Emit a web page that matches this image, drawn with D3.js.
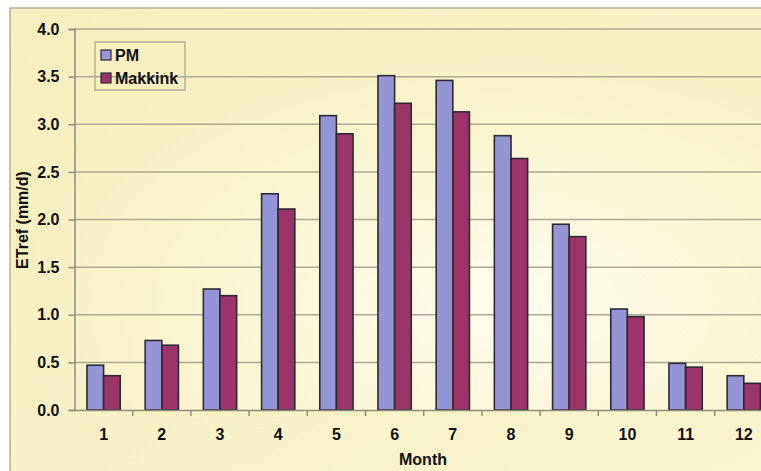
<!DOCTYPE html>
<html>
<head>
<meta charset="utf-8">
<script src="https://cdn.jsdelivr.net/npm/d3@7"></script>
<style>
  html, body { margin: 0; padding: 0; background: #fff; overflow: hidden; }
  text { font-family: Arial, "Liberation Sans", sans-serif; font-weight: bold; fill: #111; }
</style>
</head>
<body>
<svg id="chart" width="761" height="471"></svg>
<script>
// values
var months = ['1', '2', '3', '4', '5', '6', '7', '8', '9', '10', '11', '12'];
var seriesNames = ['PM', 'Makkink'];
var pm = [0.47, 0.73, 1.27, 2.27, 3.09, 3.51, 3.46, 2.88, 1.95, 1.06, 0.49, 0.36];
var makkink = [0.36, 0.68, 1.20, 2.11, 2.90, 3.22, 3.13, 2.64, 1.82, 0.98, 0.45, 0.28];
var yTicks = [0, 0.5, 1.0, 1.5, 2.0, 2.5, 3.0, 3.5, 4.0];

var colors = { 'PM': '#9595d6', 'Makkink': '#9b3468' };

var svg = d3.select('#chart');
var defs = svg.append('defs');

var outerGrad = defs.append('linearGradient').attr('id', 'outerGrad')
  .attr('x1', '0%').attr('y1', '0%').attr('x2', '100%').attr('y2', '100%');
outerGrad.append('stop').attr('offset', '0%').attr('stop-color', '#f5efbd');
outerGrad.append('stop').attr('offset', '100%').attr('stop-color', '#f9f5cf');

var plotGrad = defs.append('radialGradient').attr('id', 'plotGrad')
  .attr('cx', '62%').attr('cy', '72%').attr('r', '75%');
plotGrad.append('stop').attr('offset', '0%').attr('stop-color', '#fffdf0');
plotGrad.append('stop').attr('offset', '55%').attr('stop-color', '#faf6d2');
plotGrad.append('stop').attr('offset', '100%').attr('stop-color', '#f6f0bf');

// chart area (runs off the right and bottom edge like the original)
svg.append('rect')
  .attr('x', 10).attr('y', 8).attr('width', 800).attr('height', 500)
  .attr('fill', 'url(#outerGrad)')
  .attr('stroke', '#b5b19c').attr('stroke-width', 1.5);

var plotLeft = 74.5, plotTop = 29, plotBottom = 410;
var step = 58.2;

var x0 = d3.scaleBand().domain(months).range([plotLeft, plotLeft + step * months.length]).padding(0);
var x1 = d3.scaleBand().domain(seriesNames).range([0, x0.bandwidth()])
  .paddingInner(0).paddingOuter(0.75);
var y = d3.scaleLinear().domain([0, 4]).range([plotBottom, plotTop]);

// plot area
svg.append('rect')
  .attr('x', plotLeft).attr('y', plotTop)
  .attr('width', x0.range()[1] - plotLeft).attr('height', plotBottom - plotTop)
  .attr('fill', 'url(#plotGrad)');

// gridlines
svg.append('g').selectAll('line').data(yTicks.slice(1)).enter().append('line')
  .attr('x1', plotLeft).attr('x2', 800)
  .attr('y1', function(d) { return y(d); })
  .attr('y2', function(d) { return y(d); })
  .attr('stroke', '#aca893').attr('stroke-width', 1.5);

// y axis
var yAxis = svg.append('g').attr('transform', 'translate(' + plotLeft + ',0)')
  .call(d3.axisLeft(y).tickValues(yTicks).tickFormat(d3.format('.1f')).tickSizeOuter(0).tickSize(6).tickPadding(9));
yAxis.select('.domain').attr('stroke', '#8f8c7c').attr('stroke-width', 1.5);
yAxis.selectAll('.tick line').attr('stroke', '#8f8c7c').attr('stroke-width', 1.5);
yAxis.selectAll('.tick text').style('font-size', '16px').style('font-family', 'Arial, "Liberation Sans", sans-serif')
  .style('font-weight', 'bold').attr('fill', '#111');

// bars
var rows = months.map(function(m, i) {
  return { month: m, values: [{ key: 'PM', v: pm[i] }, { key: 'Makkink', v: makkink[i] }] };
});

var groups = svg.append('g').selectAll('g').data(rows).enter().append('g')
  .attr('transform', function(d) { return 'translate(' + x0(d.month) + ',0)'; });

groups.selectAll('rect').data(function(d) { return d.values; }).enter().append('rect')
  .attr('x', function(d) { return x1(d.key); })
  .attr('y', function(d) { return y(d.v); })
  .attr('width', x1.bandwidth())
  .attr('height', function(d) { return y(0) - y(d.v); })
  .attr('fill', function(d) { return colors[d.key]; })
  .attr('stroke', '#2d2a35').attr('stroke-width', 1.6);

// x axis
var xAxis = svg.append('g').attr('transform', 'translate(0,' + plotBottom + ')')
  .call(d3.axisBottom(x0).tickSize(0).tickPadding(19));
xAxis.select('.domain').attr('stroke', '#8f8c7c').attr('stroke-width', 1.5);
xAxis.selectAll('.tick text').style('font-size', '16px').style('font-family', 'Arial, "Liberation Sans", sans-serif')
  .style('font-weight', 'bold').attr('fill', '#111');

// tick marks between categories
svg.append('g').selectAll('line').data(months).enter().append('line')
  .attr('x1', function(d) { return x0(d) + step; })
  .attr('x2', function(d) { return x0(d) + step; })
  .attr('y1', plotBottom).attr('y2', plotBottom + 6)
  .attr('stroke', '#8f8c7c').attr('stroke-width', 1.5);

// axis titles
svg.append('text')
  .attr('x', 423).attr('y', 465)
  .attr('text-anchor', 'middle')
  .style('font-size', '16px')
  .text('Month');

svg.append('text')
  .attr('transform', 'translate(28,220) rotate(-90)')
  .attr('text-anchor', 'middle')
  .style('font-size', '16px')
  .text('ETref (mm/d)');

// legend
var legend = svg.append('g').attr('transform', 'translate(95,42)');
legend.append('rect')
  .attr('width', 90).attr('height', 48)
  .attr('fill', 'none')
  .attr('stroke', '#b3af98').attr('stroke-width', 1.5);

var items = legend.selectAll('g.item').data(seriesNames).enter().append('g')
  .attr('class', 'item')
  .attr('transform', function(d, i) { return 'translate(6,' + (8 + i * 23) + ')'; });

items.append('rect')
  .attr('width', 10).attr('height', 10)
  .attr('fill', function(d) { return colors[d]; })
  .attr('stroke', '#2d2a35').attr('stroke-width', 1.2);

items.append('text')
  .attr('x', 14).attr('y', 10.5)
  .style('font-size', '16px')
  .text(function(d) { return d; });
</script>
</body>
</html>
